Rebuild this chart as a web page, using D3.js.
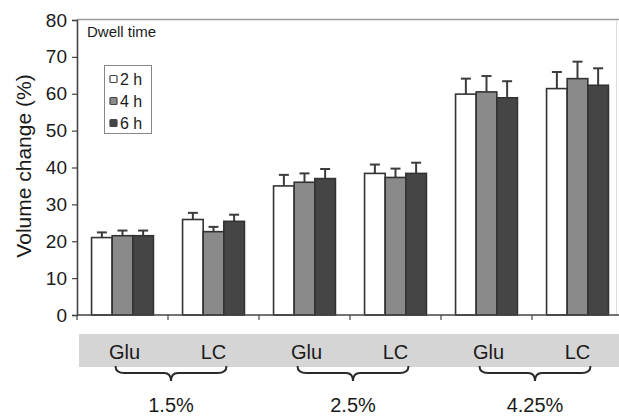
<!DOCTYPE html>
<html>
<head>
<meta charset="utf-8">
<script src="https://cdn.jsdelivr.net/npm/d3@7/dist/d3.min.js"></script>
<style>
  html, body { margin: 0; padding: 0; background: #fff; }
  svg { display: block; font-family: "Liberation Sans", Arial, Helvetica, sans-serif; }
</style>
</head>
<body>
<svg id="chart" width="619" height="417"></svg>
<script>
// Dialysate concentrations, each tested with glucose (Glu) and L-carnitine (LC)
const concentrations = ["1.5%", "2.5%", "4.25%"];
const solutions = ["Glu", "LC"];
const dwellTimes = ["2 h", "4 h", "6 h"];

// Mean volume change (%) per concentration/solution pair, one array per dwell time
const mean2h = [21.0, 25.9, 35.0, 38.4, 59.9, 61.4];
const mean4h = [21.5, 22.6, 36.0, 37.3, 60.5, 64.1];
const mean6h = [21.5, 25.4, 37.0, 38.4, 58.9, 62.3];

// Error bar lengths (upper whisker only)
const err2h = [1.4, 1.8, 3.0, 2.4, 4.2, 4.5];
const err4h = [1.4, 1.3, 2.4, 2.4, 4.3, 4.6];
const err6h = [1.4, 1.8, 2.6, 2.9, 4.5, 4.6];

const yTicks = [0, 10, 20, 30, 40, 50, 60, 70, 80];

const fills = ["#ffffff", "#8a8a8a", "#454545"];

const groups = [];
concentrations.forEach(c => solutions.forEach(s => groups.push({ conc: c, sol: s, key: c + "|" + s })));
const series = [
  { name: dwellTimes[0], mean: mean2h, err: err2h },
  { name: dwellTimes[1], mean: mean4h, err: err4h },
  { name: dwellTimes[2], mean: mean6h, err: err6h }
];

const svg = d3.select("#chart");
const W = 619;
const plotLeft = 77, plotTop = 20, plotBottom = 315;

const x0 = d3.scaleBand().domain(groups.map(g => g.key)).range([plotLeft, 623])
  .paddingInner(0.32).paddingOuter(0.16);
const x1 = d3.scaleBand().domain(dwellTimes).range([0, x0.bandwidth()]).padding(0);
const y = d3.scaleLinear().domain([0, 80]).range([plotBottom, plotTop]);

// frame: top and right borders
svg.append("line").attr("x1", plotLeft).attr("x2", W).attr("y1", plotTop - 0.5).attr("y2", plotTop - 0.5)
  .attr("stroke", "#9a9a9a").attr("stroke-width", 1.5);
svg.append("line").attr("x1", 616.5).attr("x2", 616.5).attr("y1", plotTop).attr("y2", plotBottom)
  .attr("stroke", "#dddddd").attr("stroke-width", 1);

// bars
const bars = svg.append("g");
groups.forEach((g, i) => {
  series.forEach(s => {
    const bx = x0(g.key) + x1(s.name);
    const bw = x1.bandwidth();
    const v = s.mean[i], e = s.err[i];
    const cx = bx + bw / 2;
    // error whisker
    bars.append("line").attr("x1", cx).attr("x2", cx).attr("y1", y(v)).attr("y2", y(v + e))
      .attr("stroke", "#3c3c3c").attr("stroke-width", 2);
    bars.append("line").attr("x1", cx - 5).attr("x2", cx + 5).attr("y1", y(v + e)).attr("y2", y(v + e))
      .attr("stroke", "#3c3c3c").attr("stroke-width", 2);
    bars.append("rect").attr("x", bx).attr("y", y(v)).attr("width", bw).attr("height", y(0) - y(v))
      .attr("fill", fills[dwellTimes.indexOf(s.name)]).attr("stroke", "#333").attr("stroke-width", 1.6);
  });
});

// y axis
const yAxis = svg.append("g").attr("transform", `translate(${plotLeft},0)`)
  .call(d3.axisLeft(y).tickValues(yTicks).tickSize(5).tickPadding(5).tickFormat(d3.format("d")));
yAxis.select(".domain").attr("stroke", "#444").attr("stroke-width", 1.6);
yAxis.selectAll(".tick line").attr("stroke", "#444").attr("stroke-width", 1.2);
yAxis.selectAll(".tick text").attr("font-size", 19).attr("fill", "#1a1a1a")
  .attr("font-family", "Liberation Sans, Arial, sans-serif");

// x axis baseline with ticks at group boundaries
const boundaries = groups.map(g => x0(g.key) - x0.step() * x0.paddingOuter());
svg.append("line").attr("x1", plotLeft).attr("x2", W).attr("y1", plotBottom).attr("y2", plotBottom)
  .attr("stroke", "#444").attr("stroke-width", 1.6);
svg.selectAll(".xt").data(boundaries).enter().append("line")
  .attr("x1", d => d).attr("x2", d => d).attr("y1", plotBottom).attr("y2", plotBottom + 5)
  .attr("stroke", "#444").attr("stroke-width", 1.2);

// y axis title
svg.append("text").attr("transform", `translate(31,166) rotate(-90)`)
  .attr("text-anchor", "middle").attr("font-size", 21).attr("fill", "#1a1a1a")
  .text("Volume change (%)");

// legend
svg.append("text").attr("x", 87).attr("y", 37).attr("font-size", 15).attr("fill", "#1a1a1a").text("Dwell time");
const lg = svg.append("g");
lg.append("rect").attr("x", 104.5).attr("y", 65.5).attr("width", 47).attr("height", 68)
  .attr("fill", "#fff").attr("stroke", "#888").attr("stroke-width", 1);
dwellTimes.forEach((d, i) => {
  const cy = 79 + i * 22;
  lg.append("rect").attr("x", 110).attr("y", cy - 3.5).attr("width", 7).attr("height", 7)
    .attr("fill", fills[i]).attr("stroke", "#444").attr("stroke-width", 1.2).attr("rx", 1);
  lg.append("text").attr("x", 120).attr("y", cy + 5.5).attr("font-size", 16).attr("fill", "#1a1a1a").text(d);
});

// category band beneath the axis
svg.append("rect").attr("x", 79).attr("y", 334).attr("width", W - 79).attr("height", 33).attr("fill", "#d5d5d5");
groups.forEach(g => {
  svg.append("text").attr("x", x0(g.key) + x0.bandwidth() / 2 + (g.sol === "Glu" ? 2 : 0))
    .attr("y", 359).attr("text-anchor", "middle").attr("font-size", 20).attr("fill", "#1a1a1a").text(g.sol);
});

// braces grouping each concentration
concentrations.forEach(c => {
  const a = x0(c + "|" + solutions[0]) + x0.bandwidth() / 2 - 7;
  const b = x0(c + "|" + solutions[1]) + x0.bandwidth() / 2 + 13;
  const m = (a + b) / 2;
  const yb = 373;
  const p = `M${a},366 Q${a},${yb} ${a + 9},${yb} L${m - 7},${yb} Q${m},${yb} ${m},${yb + 8} ` +
            `Q${m},${yb} ${m + 7},${yb} L${b - 9},${yb} Q${b},${yb} ${b},366`;
  svg.append("path").attr("d", p).attr("fill", "none").attr("stroke", "#2a2a2a").attr("stroke-width", 2);
  svg.append("text").attr("x", m).attr("y", 412).attr("text-anchor", "middle")
    .attr("font-size", 20).attr("fill", "#1a1a1a").text(c);
});
</script>
</body>
</html>
